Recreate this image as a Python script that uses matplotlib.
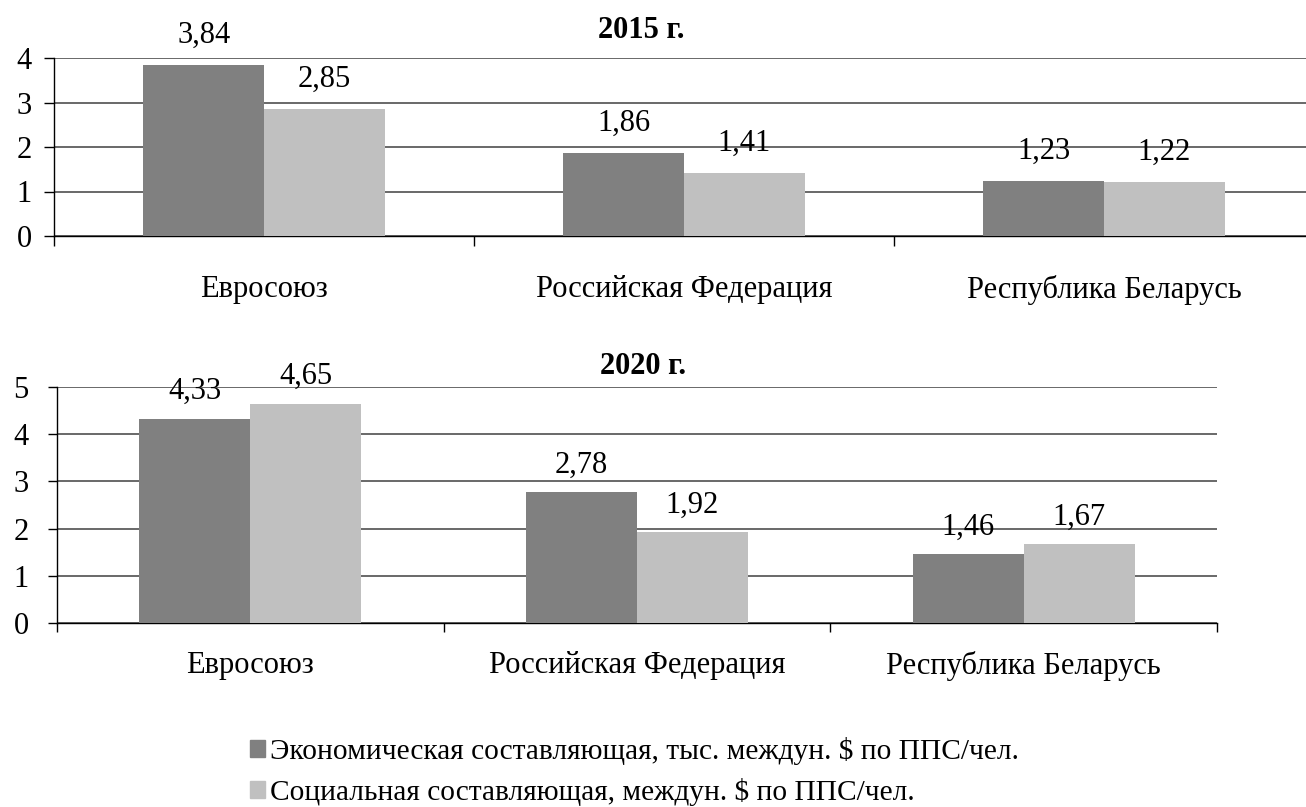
import numpy as np
import matplotlib.pyplot as plt
from matplotlib.patches import Patch

# Данные
categories = ['Евросоюз', 'Российская Федерация', 'Республика Беларусь']
econ_2015 = [3.84, 1.86, 1.23]
social_2015 = [2.85, 1.41, 1.22]
econ_2020 = [4.33, 2.78, 1.46]
social_2020 = [4.65, 1.92, 1.67]
series_names = ['Экономическая составляющая, тыс. междун. $ по ППС/чел.',
                'Социальная составляющая, междун. $ по ППС/чел.']

col_econ = '#808080'
col_social = '#c0c0c0'
FS = 22

plt.rcParams['font.family'] = ['Liberation Serif', 'DejaVu Serif']

fig = plt.figure(figsize=(13.06, 8.07), dpi=100)
W, H = 1306, 807


def ax_px(x0, x1, y_top, y_bot):
    # позиция осей в пикселях -> доли фигуры
    return [x0 / W, 1 - y_bot / H, (x1 - x0) / W, (y_bot - y_top) / H]


def fmt(v):
    return f'{v:.2f}'.replace('.', ',')


def draw_panel(ax, econ, social, ymax, label_pad, val_off, ypad, tlen):
    x = np.arange(len(categories))
    bw = 0.287
    b1 = ax.bar(x - bw / 2, econ, bw, color=col_econ, zorder=3)
    b2 = ax.bar(x + bw / 2, social, bw, color=col_social, zorder=3)
    for bars, vals in ((b1, econ), (b2, social)):
        for b, v in zip(bars, vals):
            ax.annotate(fmt(v), (b.get_x() + b.get_width() / 2, v),
                        xytext=(0, val_off), textcoords='offset points',
                        ha='center', va='baseline', fontsize=FS)
    ax.set_xlim(-0.5, len(categories) - 0.5)
    ax.set_ylim(0, ymax)
    ax.set_yticks(range(ymax + 1))
    ax.set_yticklabels([str(i) for i in range(ymax + 1)], fontsize=FS)
    ax.yaxis.grid(True, color='#404040', lw=1.1, zorder=0)
    # метки категорий - на минорных делениях, засечки - на границах
    ax.set_xticks(np.arange(-0.5, len(categories)), labels=[])
    ax.set_xticks(x, labels=categories, minor=True)
    ax.tick_params(axis='x', which='major', length=tlen, width=1, direction='out')
    ax.tick_params(axis='x', which='minor', length=0, pad=label_pad, labelsize=FS)
    ax.tick_params(axis='y', length=tlen, width=1, pad=ypad)
    for s in ('top', 'right'):
        ax.spines[s].set_visible(False)
    ax.spines['left'].set_linewidth(1)
    ax.spines['bottom'].set_linewidth(1)
    ax.set_facecolor('none')


ax1 = fig.add_axes(ax_px(54, 1314, 58, 236))
draw_panel(ax1, econ_2015, social_2015, 4, 28, 16, 9, 7.2)

ax2 = fig.add_axes(ax_px(57, 1217, 387, 623))
draw_panel(ax2, econ_2020, social_2020, 5, 20.5, 14, 14, 6.5)

fig.text(641 / W, 1 - 30 / H, '2015 г.', ha='center', va='center',
         fontsize=22, fontweight='bold')
fig.text(643 / W, 1 - 366 / H, '2020 г.', ha='center', va='center',
         fontsize=22, fontweight='bold')

handles = [Patch(color=col_econ), Patch(color=col_social)]
fig.legend(handles, series_names, loc='upper left',
           bbox_to_anchor=(250 / W, 1 - 737 / H), frameon=False,
           fontsize=21.2, handlelength=0.52, handleheight=0.52,
           handletextpad=0.17, labelspacing=0.45, borderpad=0,
           borderaxespad=0)

fig.savefig('out.png', dpi=100)
